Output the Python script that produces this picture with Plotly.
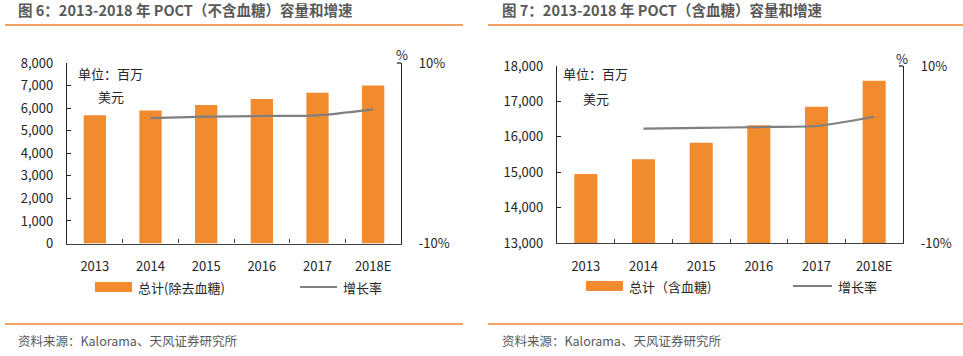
import plotly.graph_objects as go

years = ["2013", "2014", "2015", "2016", "2017", "2018E"]
growth_years = ["2014", "2015", "2016", "2017", "2018E"]

# Figure 6: POCT excluding blood glucose (USD million) and growth (%)
total_ex_glucose = [5680, 5900, 6140, 6400, 6680, 7000]
growth_ex_glucose = [3.9, 4.05, 4.13, 4.2, 4.87]

# Figure 7: POCT including blood glucose (USD million) and growth (%)
total_in_glucose = [14950, 15365, 15835, 16325, 16850, 17585]
growth_in_glucose = [2.92, 3.0, 3.1, 3.22, 4.27]

left_ticks = [0, 1000, 2000, 3000, 4000, 5000, 6000, 7000, 8000]
right_ticks = [13000, 14000, 15000, 16000, 17000, 18000]
pct_ticks = [-10, 10]
pct_text = ["-10%", "10%"]

title_left = "图 6：2013-2018 年 POCT（不含血糖）容量和增速"
title_right = "图 7：2013-2018 年 POCT（含血糖）容量和增速"
legend_bar_left = "总计(除去血糖)"
legend_bar_right = "总计（含血糖)"
legend_line = "增长率"
unit_1 = "单位：百万"
unit_2 = "美元"
source = "资料来源：Kalorama、天风证券研究所"

W, H = 963, 356
ORANGE = "#F28A2E"
GRAY_LINE = "#7F7F7F"
TXT = "#262626"
FONT = '"Noto Sans CJK SC", "Noto Sans", sans-serif'


def px(x):
    return x / W


def py(y):
    return 1 - y / H


fig = go.Figure()

fig.add_trace(go.Bar(x=years, y=total_ex_glucose, marker_color=ORANGE,
                     xaxis="x", yaxis="y", name=legend_bar_left, showlegend=False))
fig.add_trace(go.Scatter(x=growth_years, y=growth_ex_glucose, mode="lines",
                         line=dict(color=GRAY_LINE, width=2.2, shape="spline", smoothing=0.6),
                         xaxis="x", yaxis="y2", name=legend_line, showlegend=False))
fig.add_trace(go.Bar(x=years, y=total_in_glucose, marker_color=ORANGE,
                     xaxis="x2", yaxis="y3", name=legend_bar_right, showlegend=False))
fig.add_trace(go.Scatter(x=growth_years, y=growth_in_glucose, mode="lines",
                         line=dict(color=GRAY_LINE, width=2.2, shape="spline", smoothing=0.6),
                         xaxis="x2", yaxis="y4", name=legend_line, showlegend=False))

tickfont = dict(family=FONT, size=13, color=TXT)

xcommon = dict(type="category", showline=True, linecolor="#404040", linewidth=1.3,
               ticks="inside", tickson="boundaries", ticklen=4, tickcolor="#404040",
               showgrid=False, zeroline=False, tickfont=tickfont, ticklabelstandoff=11,
               fixedrange=True, automargin=False)
ycommon = dict(showline=True, linecolor="#262626", linewidth=1.3, ticklen=4,
               tickcolor="#262626", showgrid=False, zeroline=False, tickfont=tickfont,
               fixedrange=True, automargin=False)

L0, L1 = px(67), px(401)
R0, R1 = px(557), px(903)

fig.update_layout(
    template="none",
    width=W, height=H,
    margin=dict(l=0, r=0, t=0, b=0, pad=0),
    paper_bgcolor="white", plot_bgcolor="white",
    bargap=0.6,
    showlegend=False,
    font=dict(family=FONT, color=TXT),
    xaxis=dict(domain=[L0, L1], anchor="y", range=[-0.5, 5.5], **xcommon),
    yaxis=dict(domain=[py(243.5), py(63)], anchor="x", range=[0, 8000], tickvals=left_ticks,
               tickformat=",", ticks="inside", ticklabelstandoff=10, **ycommon),
    yaxis2=dict(domain=[py(243.5), py(63)], anchor="x", overlaying="y", side="right",
                range=[-10, 10], tickvals=pct_ticks, ticktext=pct_text, ticks="",
                ticklabelstandoff=14, **ycommon),
    xaxis2=dict(domain=[R0, R1], anchor="y3", range=[-0.5, 5.5], **xcommon),
    yaxis3=dict(domain=[py(243), py(66)], anchor="x2", range=[13000, 18000], tickvals=right_ticks,
                tickformat=",", ticks="inside", ticklabelstandoff=10, **ycommon),
    yaxis4=dict(domain=[py(243), py(66)], anchor="x2", overlaying="y3", side="right",
                range=[-10, 10], tickvals=pct_ticks, ticktext=pct_text, ticks="",
                ticklabelstandoff=14, **ycommon),
)

shapes = []
annotations = []

# orange separator rules
for (x0, x1) in [(5, 463), (488, 963)]:
    for y in [25, 324]:
        shapes.append(dict(type="line", xref="paper", yref="paper", x0=px(x0), x1=px(x1),
                           y0=py(y), y1=py(y), line=dict(color="#F0A060", width=2)))

# small inside tick at top of right axes
for xa, yt in [(401, 63), (903, 66)]:
    shapes.append(dict(type="line", xref="paper", yref="paper", x0=px(xa - 4), x1=px(xa),
                       y0=py(yt), y1=py(yt), line=dict(color="#262626", width=1.3)))

# titles
for x0, t in [(16, title_left), (500, title_right)]:
    annotations.append(dict(text=f"<b>{t}</b>", xref="paper", yref="paper", x=px(x0), y=py(10),
                            xanchor="left", yanchor="middle", showarrow=False,
                            font=dict(family=FONT, size=14.5, color="#595959")))
# sources
for x0 in [16, 500]:
    annotations.append(dict(text=source, xref="paper", yref="paper", x=px(x0), y=py(340),
                            xanchor="left", yanchor="middle", showarrow=False,
                            font=dict(family=FONT, size=12.5, color="#595959")))

# unit labels
for (ux, uy, vx, vy) in [(76, 73, 96, 96), (561, 73, 581, 98)]:
    annotations.append(dict(text=unit_1, xref="paper", yref="paper", x=px(ux), y=py(uy),
                            xanchor="left", yanchor="middle", showarrow=False,
                            font=dict(family=FONT, size=13, color=TXT)))
    annotations.append(dict(text=unit_2, xref="paper", yref="paper", x=px(vx), y=py(vy),
                            xanchor="left", yanchor="middle", showarrow=False,
                            font=dict(family=FONT, size=13, color=TXT)))

# percent sign above right axes
for (xx, yy) in [(402, 55), (902, 58)]:
    annotations.append(dict(text="%", xref="paper", yref="paper", x=px(xx), y=py(yy),
                            xanchor="center", yanchor="middle", showarrow=False,
                            font=dict(family=FONT, size=13, color=TXT)))

# legends
for (bx0, bx1, by, btxt, lx0, lx1) in [(95, 132, 287, legend_bar_left, 300, 337),
                                       (586, 623, 286, legend_bar_right, 793, 832)]:
    shapes.append(dict(type="rect", xref="paper", yref="paper", x0=px(bx0), x1=px(bx1),
                       y0=py(by + 5), y1=py(by - 5), fillcolor=ORANGE, line=dict(width=0)))
    annotations.append(dict(text=btxt, xref="paper", yref="paper", x=px(bx1 + 4), y=py(by),
                            xanchor="left", yanchor="middle", showarrow=False,
                            font=dict(family=FONT, size=13, color=TXT)))
    shapes.append(dict(type="line", xref="paper", yref="paper", x0=px(lx0), x1=px(lx1),
                       y0=py(by), y1=py(by), line=dict(color=GRAY_LINE, width=2.2)))
    annotations.append(dict(text=legend_line, xref="paper", yref="paper", x=px(lx1 + 4), y=py(by),
                            xanchor="left", yanchor="middle", showarrow=False,
                            font=dict(family=FONT, size=13, color=TXT)))

fig.update_layout(shapes=shapes, annotations=annotations)

fig.write_html("out.html", config={"displayModeBar": False},
               post_script="document.body.style.margin='0';document.body.style.overflow='hidden';")
